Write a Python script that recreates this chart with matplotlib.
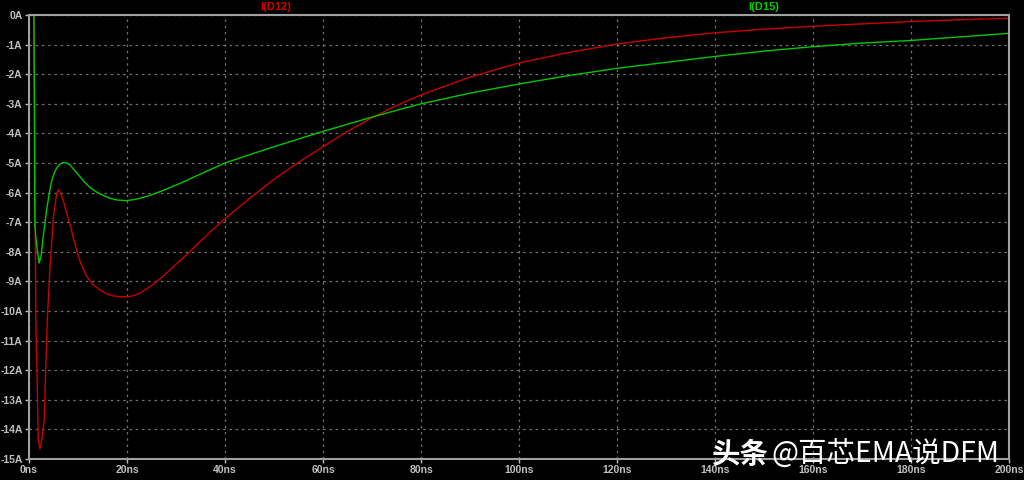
import matplotlib
matplotlib.use('Agg')
import matplotlib.pyplot as plt
import numpy as np

# values (time in ns, current in A)
t_d12 = [0, 1.0, 1.2, 1.4, 1.9, 2.24, 2.6, 3.1, 3.45, 3.73, 4.3, 5.0, 5.5,
         5.9, 6.3, 6.7, 7.2, 7.7, 8.4, 9.0, 9.7, 10.6, 11.8, 13.0, 14.5,
         15.9, 17.2, 18.6, 19.9, 21.2, 22.5, 24.7, 27.0, 29.5, 31.8, 34.2,
         37, 40, 45, 50, 55, 60, 65, 70, 75, 80, 90, 100, 110, 120, 130,
         140, 150, 160, 170, 180, 190, 200]
i_d12 = [0, 0, -5.0, -10.3, -14.36, -14.66, -14.36, -13.7, -11.76, -10.3,
         -8.5, -6.8, -6.2, -5.91, -5.97, -6.12, -6.4, -6.7, -7.1, -7.5,
         -7.94, -8.4, -8.84, -9.1, -9.29, -9.42, -9.49, -9.52, -9.52, -9.49,
         -9.41, -9.18, -8.88, -8.5, -8.15, -7.77, -7.33, -6.88, -6.2, -5.55,
         -4.98, -4.45, -3.93, -3.47, -3.06, -2.7, -2.1, -1.62, -1.27, -0.98,
         -0.77, -0.6, -0.48, -0.38, -0.3, -0.22, -0.16, -0.11]

t_d15 = [0, 1.0, 1.1, 1.2, 1.45, 1.7, 2.05, 2.45, 2.9, 3.6, 4.1, 4.6, 5.1,
         5.6, 6.3, 7.0, 7.7, 8.4, 9.3, 10.4, 11.4, 12.4, 13.8, 15.2, 16.5,
         17.9, 19.9, 21.3, 22.7, 24.7, 26.7, 30.8, 34.9, 40, 45, 50, 55, 60,
         65, 70, 75, 80, 90, 100, 110, 120, 130, 140, 150, 160, 170, 180,
         190, 200]
i_d15 = [0, 0, -3.0, -7.15, -7.6, -7.94, -8.38, -8.16, -7.49, -6.59, -6.05,
         -5.63, -5.36, -5.18, -5.04, -4.98, -5.0, -5.07, -5.25, -5.46, -5.66,
         -5.82, -5.98, -6.1, -6.19, -6.25, -6.27, -6.24, -6.19, -6.09, -5.97,
         -5.69, -5.38, -5.0, -4.72, -4.45, -4.19, -3.93, -3.69, -3.45, -3.22,
         -3.0, -2.64, -2.33, -2.05, -1.8, -1.6, -1.4, -1.22, -1.07, -0.95,
         -0.86, -0.74, -0.62]

x_ticks = list(range(0, 201, 20))
y_ticks = list(range(0, -16, -1))

plt.rcParams['font.family'] = ['Liberation Sans', 'DejaVu Sans']

fig = plt.figure(figsize=(10.24, 4.8), dpi=100, facecolor='black')
ax = fig.add_axes([29/1024, 1 - 459/480, 980/1024, 444/480], facecolor='black')

ax.plot(t_d12, i_d12, color='#c80000', lw=1.0)
ax.plot(t_d15, i_d15, color='#00c800', lw=1.0)

ax.set_xlim(0, 200)
ax.set_ylim(-15, 0)
ax.set_xticks(x_ticks)
ax.set_xticklabels(['%dns' % v for v in x_ticks])
ax.set_yticks(y_ticks)
ax.set_yticklabels(['%dA' % v for v in y_ticks])
ax.tick_params(colors='#c0c0c0', labelsize=7.5, length=3, width=1, pad=1.5)
for lab in ax.get_xticklabels() + ax.get_yticklabels():
    lab.set_fontweight('bold')
ax.grid(True, color='#707070', linestyle=(0, (2, 3)), lw=0.9)
for s in ax.spines.values():
    s.set_color('#a0a0a0')
    s.set_linewidth(1.5)

fig.text(276/1024, 1 - 7/480, 'I(D12)', color='#d00000', fontsize=8,
         fontweight='bold', ha='center', va='center')
fig.text(764/1024, 1 - 7/480, 'I(D15)', color='#00d000', fontsize=8,
         fontweight='bold', ha='center', va='center')

# watermark
fig.text(712/1024, 1 - 455/480, '头条', color='white', fontsize=20.5,
         fontweight='bold', family=['Noto Sans CJK SC', 'DejaVu Sans'],
         ha='left', va='center')
fig.text(771/1024, 1 - 455/480, '@百芯EMA说DFM', color='white', fontsize=20.5,
         family=['Noto Sans CJK SC', 'DejaVu Sans'], ha='left', va='center')

fig.savefig('out.png', dpi=100, facecolor='black')
